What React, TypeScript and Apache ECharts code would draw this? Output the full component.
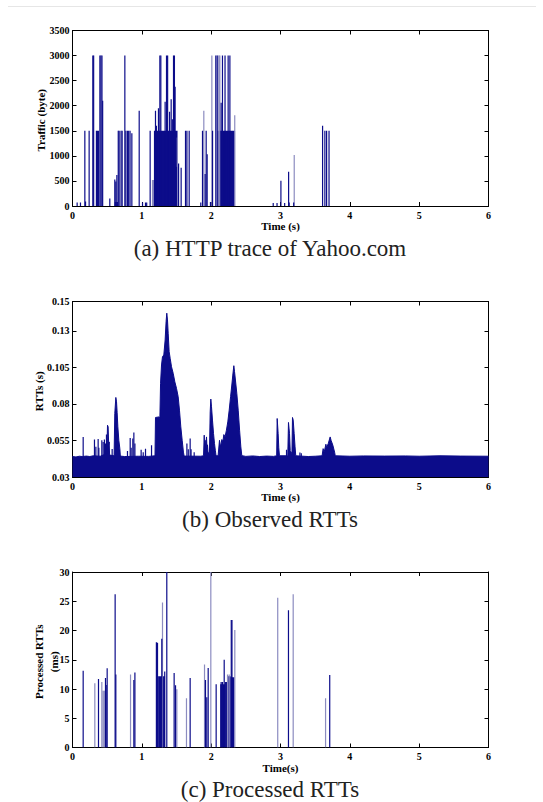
import React, { useEffect, useRef } from "react";
import * as echarts from "echarts";

// ---------- Data ----------
const timeRange = [0, 6];

// Panel (a): HTTP trace of Yahoo.com — packet sizes (byte) at time (s)
const trafficStems: [number, number][] = [
  [0.067, 70], [0.115, 70], [0.178, 1500], [0.188, 90], [0.24, 1500],
  [0.293, 3000], [0.305, 3000], [0.345, 1500], [0.36, 1500], [0.375, 1500],
  [0.395, 3000], [0.41, 3000], [0.425, 3000], [0.435, 2100], [0.538, 150],
  [0.61, 530], [0.618, 80], [0.625, 490], [0.632, 80], [0.64, 620], [0.648, 80],
  [0.66, 1500], [0.673, 1500], [0.7, 1500], [0.716, 1500], [0.755, 3000],
  [0.77, 1500], [0.793, 1500], [0.81, 1500], [0.83, 1500], [0.856, 1450],
  [0.962, 1900], [1.01, 70], [1.053, 70], [1.07, 70], [1.12, 1500],
  [1.183, 1500], [1.197, 1900], [1.21, 1600], [1.226, 1000], [1.24, 1950],
  [1.26, 3000], [1.274, 3000], [1.336, 2080], [1.356, 3000], [1.372, 3000],
  [1.4, 1880], [1.423, 2130], [1.44, 1730], [1.457, 3000], [1.47, 3000],
  [1.48, 2380], [1.49, 1460], [1.5, 785], [1.53, 850], [1.567, 765],
  [1.63, 1500], [1.65, 1500], [1.683, 1500], [1.85, 70], [1.875, 1500],
  [1.913, 640], [1.928, 1500], [1.942, 1030], [1.99, 80], [2.02, 1500],
  [2.067, 3000], [2.087, 3000], [2.144, 2060], [2.163, 3000], [2.2, 3000],
  [2.245, 3000], [2.27, 3000], [2.895, 60], [2.95, 60], [3.006, 506],
  [3.06, 60], [3.117, 685], [3.125, 70], [3.19, 70], [3.607, 1600],
  [3.64, 1500], [3.665, 1500], [3.7, 1500],
];
const trafficStemsFaint: [number, number][] = [
  [1.154, 520], [1.168, 520], [1.51, 1364], [1.894, 1900], [2.01, 3000],
  [2.1, 3000], [2.115, 3000], [2.125, 3000], [2.34, 1810], [3.198, 1018],
];
// dense packet trains: [start, end, size]
const trafficBursts: [number, number, number][] = [
  [1.19, 1.515, 1500],
  [2.09, 2.345, 1500],
];
const trafficTicks = [0, 3500, 500];

// Panel (b): Observed RTTs (s) — envelope of the dense RTT trace
const rttEnvelope: [number, number][] = [
  [0, 0.044], [0.05, 0.0437], [0.1, 0.0442], [0.14, 0.044], [0.2, 0.0443],
  [0.25, 0.044], [0.3, 0.0445], [0.4, 0.0442], [0.495, 0.046], [0.505, 0.0654],
  [0.514, 0.0643], [0.522, 0.052], [0.529, 0.054], [0.535, 0.045], [0.6, 0.0445],
  [0.61, 0.0734], [0.625, 0.0844], [0.635, 0.0814], [0.644, 0.074], [0.654, 0.0643],
  [0.668, 0.0551], [0.683, 0.0494], [0.69, 0.0443], [0.75, 0.044], [0.95, 0.0442],
  [1.1, 0.0441], [1.19, 0.0445], [1.197, 0.0707], [1.25, 0.0711], [1.26, 0.07],
  [1.27, 0.094], [1.284, 0.1066], [1.298, 0.1123], [1.317, 0.1134], [1.336, 0.1237],
  [1.35, 0.1363], [1.36, 0.142], [1.37, 0.1374], [1.38, 0.1283], [1.394, 0.1157],
  [1.409, 0.1111], [1.428, 0.1054], [1.452, 0.1009], [1.476, 0.0951], [1.5, 0.0906],
  [1.524, 0.0849], [1.543, 0.0757], [1.562, 0.0643], [1.582, 0.0551], [1.6, 0.047],
  [1.61, 0.0443], [1.85, 0.0442], [1.89, 0.0445], [1.9, 0.0586], [1.905, 0.05],
  [1.913, 0.0551], [1.92, 0.05], [1.933, 0.0574], [1.94, 0.049], [1.947, 0.052],
  [1.955, 0.047], [1.975, 0.046], [1.986, 0.0746], [1.995, 0.0833], [2.005, 0.078],
  [2.019, 0.0689], [2.034, 0.0597], [2.048, 0.0529], [2.06, 0.0483], [2.07, 0.0445],
  [2.1, 0.0445], [2.12, 0.0551], [2.135, 0.0506], [2.154, 0.0556], [2.168, 0.054],
  [2.183, 0.059], [2.2, 0.0574], [2.22, 0.062], [2.24, 0.0677], [2.26, 0.0757],
  [2.28, 0.0849], [2.298, 0.0929], [2.312, 0.0997], [2.327, 0.1061], [2.337, 0.102],
  [2.35, 0.0963], [2.37, 0.0871], [2.39, 0.0757], [2.41, 0.062], [2.428, 0.0506],
  [2.442, 0.0446], [2.5, 0.0441], [2.6, 0.0444], [2.7, 0.044], [2.8, 0.0443],
  [2.9, 0.0441], [2.945, 0.0445], [2.952, 0.07], [2.966, 0.0597], [2.975, 0.05],
  [2.985, 0.0445], [3.105, 0.0445], [3.115, 0.0673], [3.13, 0.0597], [3.14, 0.048],
  [3.165, 0.046], [3.173, 0.0707], [3.183, 0.0689], [3.197, 0.0597], [3.21, 0.0506],
  [3.22, 0.0445], [3.4, 0.044], [3.5, 0.0442], [3.6, 0.0445], [3.615, 0.0494],
  [3.63, 0.047], [3.655, 0.0524], [3.665, 0.05], [3.69, 0.053], [3.716, 0.0574],
  [3.73, 0.055], [3.755, 0.0517], [3.78, 0.047], [3.79, 0.0445], [4.0, 0.0442],
  [4.2, 0.0444], [4.5, 0.0443], [4.8, 0.0444], [5.0, 0.0442], [5.3, 0.0445],
  [5.6, 0.0443], [6, 0.0442],
];
// isolated RTT spikes
const rttSpikes: [number, number][] = [
  [0.154, 0.0574], [0.317, 0.0556], [0.337, 0.0506], [0.37, 0.056], [0.38, 0.05],
  [0.423, 0.0551], [0.442, 0.054], [0.46, 0.0556], [0.476, 0.0529], [0.49, 0.059],
  [0.572, 0.0492], [0.793, 0.0478], [0.832, 0.0567], [0.846, 0.05], [0.87, 0.0563],
  [0.885, 0.0604], [0.9, 0.0529], [0.99, 0.0487], [1.02, 0.047], [1.053, 0.0494],
  [1.14, 0.0517], [1.65, 0.0529], [1.67, 0.049], [1.697, 0.0563], [1.71, 0.049],
  [1.755, 0.047], [3.087, 0.0487], [3.28, 0.0467], [3.3, 0.0462],
];
const rttTicks = [0.03, 0.055, 0.08, 0.105, 0.13, 0.15];

// Panel (c): Processed RTTs (ms)
const procStems: [number, number][] = [
  [0.154, 13.1], [0.375, 11.7], [0.476, 11.9], [0.486, 10.7], [0.5, 13.55],
  [0.615, 26.2], [0.625, 12.5], [0.885, 11.55], [0.9, 12.8], [1.21, 18.0],
  [1.226, 17.9], [1.288, 18.6], [1.33, 13.0], [1.36, 30], [1.466, 12.75],
  [1.486, 10.65], [1.697, 11.9], [1.918, 11.55], [1.937, 8.6], [1.957, 13.6],
  [2.072, 10.8], [2.144, 11.2], [2.163, 11.2], [2.188, 15.0], [2.29, 21.8],
  [2.3, 21.8], [3.115, 23.45], [3.71, 12.4],
];
const procStemsFaint: [number, number][] = [
  [0.322, 11.0], [0.423, 11.2], [0.44, 9.7], [0.453, 9.7], [0.466, 9.7],
  [0.837, 12.5], [1.298, 24.8], [1.505, 9.96], [1.644, 8.43], [1.904, 14.2],
  [1.995, 30], [2.236, 12.5], [2.26, 12.5], [2.341, 20.1], [2.96, 25.6],
  [3.183, 26.2], [3.65, 8.4],
];
const procBursts: [number, number, number][] = [
  [1.235, 1.335, 12.2],
  [2.13, 2.2, 10.8],
  [2.2, 2.245, 11.2],
  [2.245, 2.28, 12.2],
  [2.28, 2.335, 12.0],
];
const procTicks = [0, 30, 5];

const captions = ["(a) HTTP trace of Yahoo.com", "(b) Observed RTTs", "(c) Processed RTTs"];
const xNames = ["Time (s)", "Time (s)", "Time(s)"];
const yNames = ["Traffic (byte)", "RTTs (s)", "Processed RTTs\n(ms)"];

// ---------- Styling ----------
const NAVY = "#0c0c8a";
const FAINT = "#8c8cc0";
const FONT = "Liberation Serif";
const GRID_LEFT = 72.5;
const GRID_WIDTH = 416;
const GRID_TOPS = [30.5, 301.5, 572];
const GRID_HEIGHT = 175.5;

function stemSeries(data: [number, number][], axis: number, base: number, color: string) {
  return {
    type: "custom",
    xAxisIndex: axis,
    yAxisIndex: axis,
    clip: true,
    encode: { x: 0, y: 1 },
    data,
    renderItem: (_p: any, api: any) => {
      const top = api.coord([api.value(0), api.value(1)]);
      const bot = api.coord([api.value(0), base]);
      return {
        type: "rect",
        shape: { x: top[0] - 0.6, y: top[1], width: 1.2, height: bot[1] - top[1] },
        style: { fill: color },
      };
    },
  };
}

function burstSeries(data: [number, number, number][], axis: number, base: number, color: string) {
  return {
    type: "custom",
    xAxisIndex: axis,
    yAxisIndex: axis,
    clip: true,
    encode: { x: [0, 1], y: 2 },
    data,
    renderItem: (_p: any, api: any) => {
      const a = api.coord([api.value(0), api.value(2)]);
      const b = api.coord([api.value(1), base]);
      return {
        type: "rect",
        shape: { x: a[0], y: a[1], width: b[0] - a[0], height: b[1] - a[1] },
        style: { fill: color },
      };
    },
  };
}

const tickLabel = { fontFamily: FONT, fontWeight: "bold" as const, fontSize: 10, color: "#000" };
const lineStyle = { color: "#000", width: 1 };
const plain = (v: number) => String(+v.toFixed(3));

function xAxes(i: number) {
  const common = {
    type: "value",
    gridIndex: i,
    min: timeRange[0],
    max: timeRange[1],
    interval: 1,
    splitLine: { show: false },
    axisLine: { show: true, onZero: false, lineStyle },
    axisTick: { show: true, inside: true, length: 4, lineStyle },
  };
  return [
    {
      ...common,
      position: "bottom",
      axisLabel: { ...tickLabel, margin: 4, formatter: plain },
      name: xNames[i],
      nameLocation: "middle",
      nameGap: 13,
      nameTextStyle: { fontFamily: FONT, fontWeight: "bold", fontSize: 11, color: "#000" },
    },
    { ...common, position: "top", axisLabel: { show: false } },
  ];
}

function yAxes(i: number, ticks: number[] | null, custom: number[] | null) {
  const range = custom
    ? { min: custom[0], max: custom[custom.length - 1] }
    : { min: ticks![0], max: ticks![1], interval: ticks![2] };
  const common: any = {
    type: "value",
    gridIndex: i,
    ...range,
    splitLine: { show: false },
    axisLine: { show: true, onZero: false, lineStyle },
    axisTick: { show: true, inside: true, length: 4, lineStyle, ...(custom ? { customValues: custom } : {}) },
  };
  return [
    {
      ...common,
      position: "left",
      axisLabel: {
        ...tickLabel,
        margin: 3,
        formatter: plain,
        ...(custom ? { customValues: custom } : {}),
      },
    },
    { ...common, position: "right", axisLabel: { show: false } },
  ];
}

export default function App() {
  const ref = useRef<HTMLDivElement>(null);
  useEffect(() => {
    if (!ref.current) return;
    const chart = echarts.init(ref.current, undefined, { renderer: "svg" });
    const grids = GRID_TOPS.map((top) => ({
      left: GRID_LEFT,
      top,
      width: GRID_WIDTH,
      height: GRID_HEIGHT,
      containLabel: false,
      outerBoundsMode: "none",
    }));
    const graphics: any[] = [
      { type: "line", shape: { x1: 8, y1: 6.5, x2: 536, y2: 6.5 }, style: { stroke: "#e6e6e6", lineWidth: 1 } },
    ];
    const yNameX = [41, 39, 46];
    GRID_TOPS.forEach((top, i) => {
      graphics.push({
        type: "text",
        x: 270,
        y: top + GRID_HEIGHT + 42,
        style: { text: captions[i], fontFamily: FONT, fontSize: 23, fill: "#222", align: "center", verticalAlign: "middle" },
      });
      graphics.push({
        type: "text",
        x: yNameX[i],
        y: top + GRID_HEIGHT / 2 + 2,
        rotation: Math.PI / 2,
        style: {
          text: yNames[i],
          fontFamily: FONT,
          fontWeight: "bold",
          fontSize: 11,
          lineHeight: 15,
          fill: "#000",
          align: "center",
          verticalAlign: "middle",
        },
      });
    });

    chart.setOption({
      animation: false,
      backgroundColor: "#fff",
      grid: grids,
      xAxis: [...xAxes(0), ...xAxes(1), ...xAxes(2)],
      yAxis: [...yAxes(0, trafficTicks, null), ...yAxes(1, null, rttTicks), ...yAxes(2, procTicks, null)],
      graphic: graphics,
      series: [
        burstSeries(trafficBursts, 0, 0, NAVY),
        stemSeries(trafficStemsFaint, 0, 0, FAINT),
        stemSeries(trafficStems, 0, 0, NAVY),
        {
          type: "line",
          xAxisIndex: 2,
          yAxisIndex: 2,
          data: rttEnvelope,
          symbol: "none",
          showSymbol: false,
          lineStyle: { color: NAVY, width: 1 },
          areaStyle: { color: NAVY, opacity: 1, origin: "start" },
        },
        stemSeries(rttSpikes, 2, 0.03, NAVY),
        burstSeries(procBursts, 4, 0, NAVY),
        stemSeries(procStemsFaint, 4, 0, FAINT),
        stemSeries(procStems, 4, 0, NAVY),
      ],
    });
    return () => chart.dispose();
  }, []);
  return (
    <div
      ref={ref}
      style={{ position: "fixed", left: 0, top: 0, width: 543, height: 802, background: "#fff" }}
    />
  );
}
